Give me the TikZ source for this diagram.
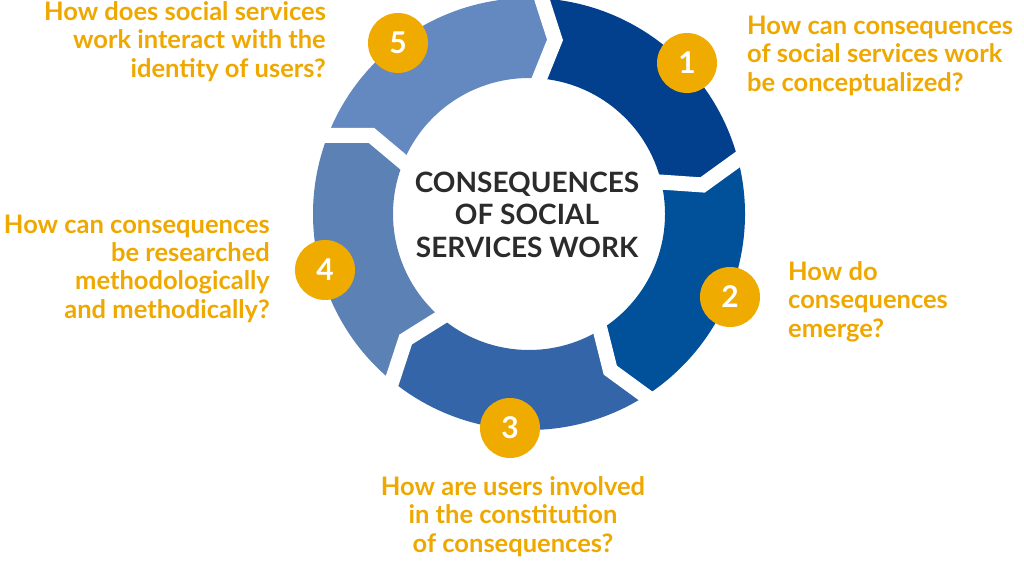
\documentclass[tikz,border=0pt]{standalone}
\usepackage{fontspec}
\setmainfont{Lato}
\definecolor{segA}{HTML}{023F8C}
\definecolor{segB}{HTML}{01509A}
\definecolor{segC}{HTML}{3465A8}
\definecolor{segD}{HTML}{5B81B5}
\definecolor{segE}{HTML}{6489C1}
\definecolor{circlegold}{HTML}{F0AB00}
\definecolor{labelgold}{HTML}{EFA800}
\definecolor{centergray}{HTML}{2B2B2B}
\newcommand\myseg[3]{\fill[#1] (#2:216) arc[start angle=#2, end angle=#3, radius=216] -- ({#3-6.5}:176) -- (#3:136) arc[start angle=#3, end angle=#2, radius=136] -- ({#2-6.5}:176) -- cycle;}
\newcommand\mygap[1]{\draw[gapline] (#1:230) -- ({#1-6.5}:176) -- (#1:120);}
\begin{document}
\begin{tikzpicture}[x=1pt,y=1pt,
  lbl/.style={text=labelgold, font=\fontsize{25.5}{28.3}\selectfont\bfseries, inner sep=0pt},
  num/.style={circle, fill=circlegold, minimum size=60pt, inner sep=0pt, text=white, font=\fontsize{30}{30}\selectfont\bfseries},
  gapline/.style={white, line width=15pt, miter limit=10},
  centre/.style={align=center, inner sep=0pt, text=centergray, font=\fontsize{28}{32.5}\selectfont\bfseries}]
\fill[white] (0,0) rectangle (1024,-560);
\useasboundingbox (0,0) rectangle (1024,-560);
\begin{scope}[shift={(529,-214)}]
  \myseg{segA}{88}{16}
  \myseg{segB}{16}{-56}
  \myseg{segC}{-56}{-128}
  \myseg{segD}{-128}{-200}
  \myseg{segE}{160}{88}
  \mygap{88}
  \mygap{16}
  \mygap{-56}
  \mygap{-128}
  \mygap{160}
\end{scope}
\node[centre, anchor=base] (c) at (527,-257) {CONSEQUENCES\\OF SOCIAL\\SERVICES WORK};
\node[num] (n1) at (687,-63) {1};
\node[num] (n2) at (730,-297) {2};
\node[num] (n3) at (510,-428) {3};
\node[num] (n4) at (325,-270) {4};
\node[num] (n5) at (398,-43) {5};
\node[lbl, align=left, anchor=base west] (l1) at (747,-91) {How can consequences\\of social services work\\be conceptualized?};
\node[lbl, align=left, anchor=base west] (l2) at (788,-337) {How do\\consequences\\emerge?};
\node[lbl, align=center, anchor=base] (l3) at (513,-552) {How are users involved\\in the constitution\\of consequences?};
\node[lbl, align=right, anchor=base east] (l4) at (270,-318) {How can consequences\\be researched\\methodologically\\and methodically?};
\node[lbl, align=right, anchor=base east] (l5) at (326,-77) {How does social services\\work interact with the\\identity of users?};
\end{tikzpicture}
\end{document}
